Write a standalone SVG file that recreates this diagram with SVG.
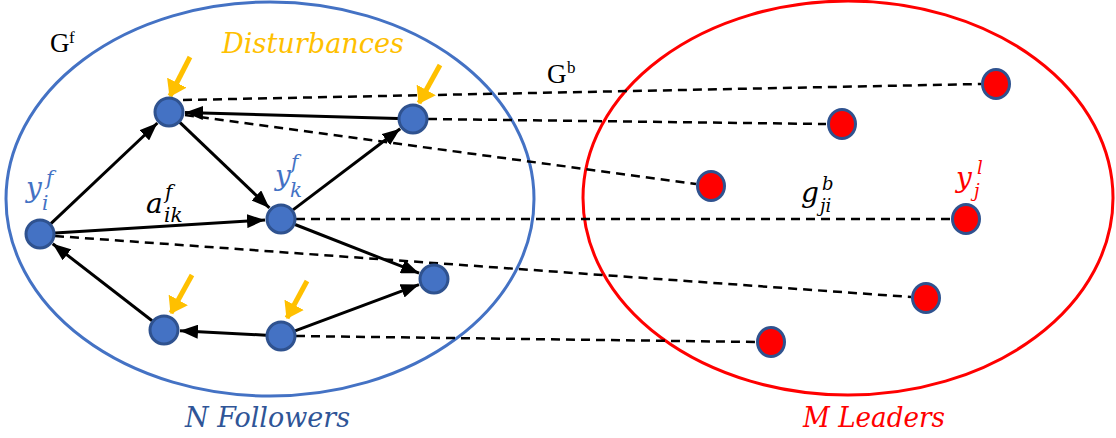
<svg xmlns="http://www.w3.org/2000/svg" width="1116" height="438" viewBox="0 0 1116 438">
<style>
.bn{fill:#4472C4;stroke:#2F528F;stroke-width:3}
.rn{fill:#FF0000;stroke:#2F528F;stroke-width:3}
.sol{stroke:#000;stroke-width:3;fill:none;marker-end:url(#ah)}
.dash{stroke:#000;stroke-width:2.5;fill:none;stroke-dasharray:9 6}
.dist{stroke:#FFC000;stroke-width:5;fill:none;marker-end:url(#oh)}
.m{font-family:"DejaVu Serif","Liberation Serif",serif;font-style:italic}
.r{font-family:"Liberation Serif",serif}
</style>
<defs>
<marker id="ah" markerUnits="userSpaceOnUse" markerWidth="18" markerHeight="14" refX="18" refY="7" orient="auto"><path d="M0,0 L18,7 L0,14 z" fill="#000"/></marker>
<marker id="oh" markerUnits="userSpaceOnUse" markerWidth="16" markerHeight="22" refX="15" refY="11" orient="auto"><path d="M0,0 L16,11 L0,22 z" fill="#FFC000"/></marker>
</defs>
<rect width="1116" height="438" fill="#fff"/>
<g id="followers-set"><ellipse cx="270" cy="199" rx="264" ry="197" fill="none" stroke="#4472C4" stroke-width="3"/></g>
<g id="leaders-set"><ellipse cx="848" cy="198" rx="265" ry="197" fill="none" stroke="#FF0000" stroke-width="3"/></g>
<g id="connectors">
<line class="dash" x1="183" y1="100" x2="981" y2="84"/>
<line class="dash" x1="428" y1="119" x2="826" y2="124"/>
<line class="dash" x1="185" y1="115" x2="696" y2="184"/>
<line class="dash" x1="296" y1="219" x2="951" y2="219"/>
<line class="dash" x1="55" y1="236" x2="911" y2="297"/>
<line class="dash" x1="296" y1="336" x2="756" y2="342"/>
<line class="sol" x1="50.9" y1="223.7" x2="157.4" y2="123"/>
<line class="sol" x1="179.8" y1="122.4" x2="269.4" y2="207.9"/>
<line class="sol" x1="398" y1="118.6" x2="185" y2="112.5"/>
<line class="sol" x1="293" y1="209.9" x2="400.2" y2="128.7"/>
<line class="sol" x1="55" y1="233.1" x2="265" y2="220"/>
<line class="sol" x1="295" y1="224.5" x2="419.1" y2="273.2"/>
<line class="sol" x1="295" y1="330.8" x2="419" y2="284.6"/>
<line class="sol" x1="266" y1="335.2" x2="180" y2="330.8"/>
<line class="sol" x1="152.1" y1="320.8" x2="52.7" y2="243.8"/>
<line class="dist" x1="190" y1="57" x2="170" y2="96"/>
<line class="dist" x1="440" y1="65" x2="419" y2="103"/>
<line class="dist" x1="192" y1="275" x2="171" y2="313"/>
<line class="dist" x1="307" y1="281" x2="287" y2="318"/>
</g>
<g id="f1"><circle class="bn" cx="169" cy="112" r="14"/></g>
<g id="f2"><circle class="bn" cx="413" cy="119" r="14"/></g>
<g id="fi"><circle class="bn" cx="40" cy="234" r="14"/></g>
<g id="fk"><circle class="bn" cx="281" cy="219" r="14"/></g>
<g id="f5"><circle class="bn" cx="434" cy="279" r="14"/></g>
<g id="f6"><circle class="bn" cx="164" cy="330" r="14"/></g>
<g id="f7"><circle class="bn" cx="281" cy="336" r="14"/></g>
<g id="l1"><ellipse class="rn" cx="996" cy="84" rx="13.5" ry="14.5"/></g>
<g id="l2"><ellipse class="rn" cx="842" cy="124" rx="13.5" ry="14.5"/></g>
<g id="l3"><ellipse class="rn" cx="711" cy="186" rx="13.5" ry="14.5"/></g>
<g id="lj"><ellipse class="rn" cx="966" cy="219" rx="13.5" ry="14.5"/></g>
<g id="l5"><ellipse class="rn" cx="926" cy="298" rx="13.5" ry="14.5"/></g>
<g id="l6"><ellipse class="rn" cx="771" cy="342" rx="13.5" ry="14.5"/></g>
<g id="labels">
<text class="r" x="50" y="52" font-size="27" fill="#000">G<tspan x="69" y="43" font-size="17">f</tspan></text>
<text class="r" x="547" y="83" font-size="27" fill="#000">G<tspan x="567" y="73" font-size="17">b</tspan></text>
<text class="m" x="222" y="53" font-size="27" fill="#FFC000" textLength="182" lengthAdjust="spacingAndGlyphs">Disturbances</text>
<text class="m" x="26" y="197" font-size="28" fill="#4472C4">y<tspan x="46" y="185" font-size="20">f</tspan><tspan x="42" y="210" font-size="20">i</tspan></text>
<text class="m" x="275" y="185" font-size="28" fill="#4472C4">y<tspan x="291" y="169" font-size="20">f</tspan><tspan x="290" y="197" font-size="20">k</tspan></text>
<text class="m" x="146" y="213" font-size="28" fill="#000">a<tspan x="165" y="199" font-size="20">f</tspan><tspan x="164" y="222" font-size="20">ik</tspan></text>
<text class="m" x="801" y="202" font-size="28" fill="#000">g<tspan x="822" y="190" font-size="18">b</tspan><tspan x="820" y="212" font-size="18">ji</tspan></text>
<text class="m" x="956" y="187" font-size="28" fill="#FF0000">y<tspan x="977" y="174" font-size="18">l</tspan><tspan x="974" y="197" font-size="18">j</tspan></text>
<text class="m" x="185" y="427" font-size="27" fill="#2F5597" textLength="165" lengthAdjust="spacingAndGlyphs">N Followers</text>
<text class="m" x="803" y="427" font-size="27" fill="#FF0000" textLength="142" lengthAdjust="spacingAndGlyphs">M Leaders</text>
</g>
</svg>
